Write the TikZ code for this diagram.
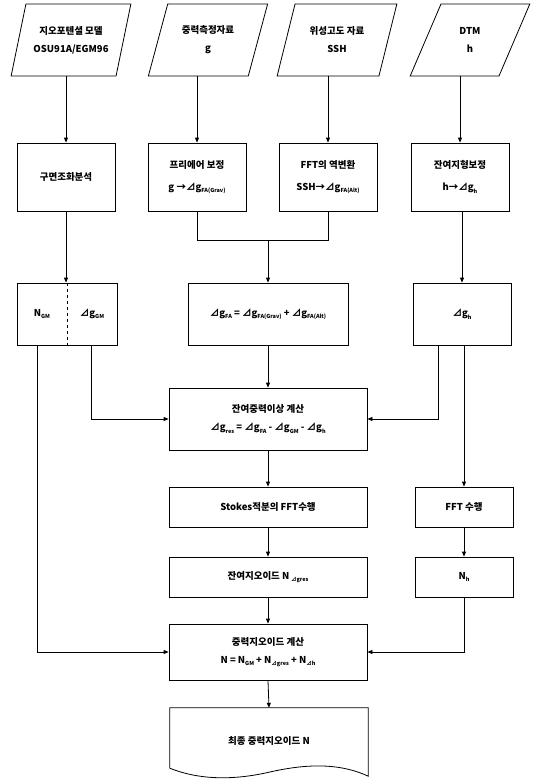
\documentclass[tikz,border=0pt]{standalone}
\usepackage{fontspec}
\setmainfont{Noto Sans CJK KR}
\usetikzlibrary{shapes.geometric,arrows.meta,calc}

% 작은 아래첨자
\newcommand\dsub[1]{\raisebox{-0.45ex}{\fontsize{5.5pt}{6pt}\selectfont #1}}

\tikzset{
  ln/.style={line width=0.8pt},
  arr/.style={ln, -{Triangle[length=5pt,width=4pt]}},
  box/.style={ln, draw, rectangle, minimum width=98pt, minimum height=68pt,
    align=center, inner sep=0pt},
  widebox/.style={box, minimum width=198pt},
  datain/.style={ln, draw, trapezium, trapezium left angle=66,
    trapezium right angle=114, trapezium stretches=true,
    minimum width=120pt, minimum height=72pt, align=center, inner sep=0pt},
  every node/.style={font=\fontsize{9.5pt}{18pt}\selectfont\bfseries}
}

\begin{document}
\begin{tikzpicture}[x=1pt,y=-1pt]
        \useasboundingbox (0,0) rectangle (534,782);

        % 입력 자료
        \node[datain] (gm)   at (71,40)  {지오포텐셜 모델\\OSU91A/EGM96};
        \node[datain] (grav) at (208,40) {중력측정자료\\g};
        \node[datain] (alt)  at (337,40) {위성고도 자료\\SSH};
        \node[datain] (dtm)  at (470,40) {DTM\\h};

        % 1차 처리
        \node[box] (b1) at (66,177)  {구면조화분석};
        \node[box] (b2) at (197,177) {프리에어 보정\\[4pt]g →⊿g\dsub{FA(Grav)}};
        \node[box] (b3) at (328,177) {FFT의 역변환\\[4pt]SSH→⊿g\dsub{FA(Alt)}};
        \node[box] (b4) at (460,177) {잔여지형보정\\[4pt]h→⊿g\dsub{h}};

        \draw[arr] (gm.south -| b1.north) -- (b1.north);
        \draw[arr] (grav.south -| b2.north) -- (b2.north);
        \draw[arr] (alt.south -| b3.north) -- (b3.north);
        \draw[arr] (dtm.south -| b4.north) -- (b4.north);

        % 이상값
        \node[box, minimum width=100pt, minimum height=62pt] (ngm) at (67,314) {};
        \node (ngmL) at (42,314) {N\dsub{GM}};
        \node (ngmR) at (92,314) {⊿g\dsub{GM}};
        \draw[ln, dashed] (ngm.north) -- (ngm.south);
        \node[box, minimum width=160pt, minimum height=62pt] (fa) at (268,314)
          {⊿g\dsub{FA} = ⊿g\dsub{FA(Grav)} + ⊿g\dsub{FA(Alt)}};
        \node[box, minimum height=62pt] (dgh) at (462,314) {⊿g\dsub{h}};

        \coordinate (mrg) at (268,240);
        \draw[arr] (b1.south) -- (b1.south |- ngm.north);
        \draw[ln] (b2.south) |- (mrg);
        \draw[ln] (b3.south) |- (mrg);
        \draw[arr] (mrg) -- (fa.north);
        \draw[arr] (b4.south -| dgh.north) -- (dgh.north);

        % 잔여 중력이상 및 지오이드
        \node[widebox, minimum height=62pt] (res) at (268,419)
          {잔여중력이상 계산\\⊿g\dsub{res} = ⊿g\dsub{FA} - ⊿g\dsub{GM} - ⊿g\dsub{h}};
        \node[widebox, minimum height=40pt] (stokes) at (268,507) {Stokes적분의 FFT수행};
        \node[box, minimum height=40pt] (fft) at (464,507) {FFT 수행};
        \node[widebox, minimum height=40pt] (rgeo) at (268,577) {잔여지오이드 N\,\dsub{⊿gres}};
        \node[box, minimum height=40pt] (nh) at (464,577) {N\dsub{h}};
        \node[widebox, minimum height=56pt] (geo) at (268,652)
          {중력지오이드 계산\\N = N\dsub{GM} + N\dsub{⊿gres} + N\dsub{⊿h}};
        \node[minimum width=198pt, minimum height=66pt, inner sep=0pt] (fin) at (269,741)
          {최종 중력지오이드 N};

        \draw[arr] (fa.south) -- (res.north);
        \draw[arr] ([xshift=24pt]ngm.south) |- (res.west);
        \draw[arr] ([xshift=-24pt]dgh.south) |- (res.east);
        \draw[arr] (dgh.south -| fft.north) -- (fft.north);
        \draw[arr] (res.south) -- (stokes.north);
        \draw[arr] (stokes.south) -- (rgeo.north);
        \draw[arr] (fft.south) -- (nh.north);
        \draw[arr] (rgeo.south) -- (geo.north);
        \draw[arr] (nh.south) |- (geo.east);
        \draw[arr] ([xshift=-30pt]ngm.south) |- (geo.west);
        \draw[arr] (geo.south) -- (fin.north);

        % 최종 결과 (문서 모양)
        \draw[ln] ($(fin.south west)+(0,-6)$) -- (fin.north west) -- (fin.north east)
          -- ($(fin.south east)+(0,2)$) .. controls +(-30,-14) and +(35,-8) .. ($(fin.south)+(0,-2)$)
          .. controls +(-35,8) and +(30,12) .. ($(fin.south west)+(0,-6)$);

    \end{tikzpicture}
\end{document}
